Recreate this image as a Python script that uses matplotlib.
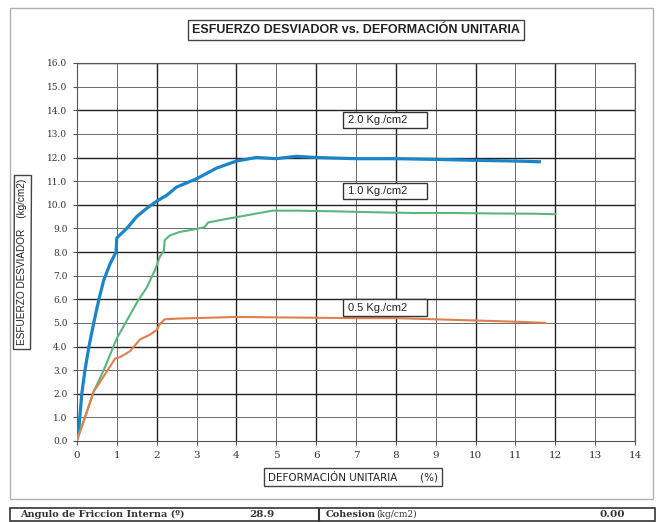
import matplotlib
matplotlib.use("Agg")
import matplotlib.pyplot as plt
from matplotlib.patches import Rectangle

# ---- data ----
x_20 = [0, 0.05, 0.12, 0.2, 0.3, 0.42, 0.55, 0.67, 0.83, 0.98, 1.0, 1.25, 1.5, 1.75, 2.0, 2.25,
        2.5, 3.0, 3.5, 4.0, 4.5, 5.0, 5.5, 6.0, 7.0, 8.0, 9.0, 10.0, 11.0, 11.6]
y_20 = [0.2, 0.6, 2.0, 3.0, 4.0, 5.0, 6.0, 6.8, 7.5, 8.0, 8.6, 9.0, 9.5, 9.85, 10.15, 10.4,
        10.75, 11.1, 11.55, 11.85, 12.0, 11.95, 12.05, 12.0, 11.95, 11.95, 11.92, 11.88, 11.85, 11.82]

x_10 = [0, 0.2, 0.42, 0.67, 1.0, 1.25, 1.5, 1.75, 1.96, 2.08, 2.18, 2.2, 2.33, 2.58, 2.92, 3.2,
        3.29, 3.75, 4.25, 4.9, 5.5, 6.5, 7.5, 8.5, 9.5, 10.5, 11.5, 12.0]
y_10 = [0.1, 1.0, 2.1, 3.0, 4.35, 5.1, 5.85, 6.5, 7.25, 7.8, 8.05, 8.5, 8.7, 8.85, 8.95, 9.05,
        9.25, 9.4, 9.55, 9.75, 9.75, 9.72, 9.68, 9.65, 9.65, 9.63, 9.62, 9.6]

x_05 = [0, 0.2, 0.42, 0.58, 0.75, 0.96, 1.08, 1.33, 1.58, 1.83, 2.0, 2.08, 2.2, 2.5, 4.0, 7.0,
        8.0, 9.0, 10.0, 11.0, 11.75]
y_05 = [0.0, 1.0, 2.1, 2.5, 2.95, 3.5, 3.55, 3.8, 4.3, 4.5, 4.7, 4.95, 5.15, 5.18, 5.25, 5.2,
        5.2, 5.15, 5.1, 5.05, 5.0]

series_labels = ["2.0 Kg./cm2", "1.0 Kg./cm2", "0.5 Kg./cm2"]
label_pos_y = [13.6, 10.6, 5.65]

x_ticks = list(range(0, 15))
y_ticks = [i * 1.0 for i in range(0, 17)]

title = "ESFUERZO DESVIADOR vs. DEFORMACIÓN UNITARIA"
xlabel = "DEFORMACIÓN UNITARIA       (%)"
ylabel = "ESFUERZO DESVIADOR    (kg/cm2)"
friction_angle = "28.9"
cohesion = "0.00"

# ---- figure ----
fig = plt.figure(figsize=(6.64, 5.22), dpi=100)
fig.patch.set_facecolor("white")

# outer frame
fig.patches.append(Rectangle((10 / 664, 1 - 499 / 522), 643 / 664, 491 / 522,
                             transform=fig.transFigure, fill=False,
                             edgecolor="#b0b0b0", linewidth=1.0))

ax = fig.add_axes([77 / 664, 1 - 441 / 522, (635 - 77) / 664, (441 - 63) / 522])
ax.set_xlim(0, 14)
ax.set_ylim(0, 16)
ax.set_xticks(x_ticks)
ax.set_yticks(y_ticks)
ax.set_xticklabels([str(t) for t in x_ticks], fontsize=7.5, family="DejaVu Serif", color="#333333")
ax.set_yticklabels([f"{t:.1f}" for t in y_ticks], fontsize=6.5, family="DejaVu Serif", color="#333333")
ax.tick_params(axis="both", length=3, color="#555555", pad=4)

for t in x_ticks[1:]:
    ax.axvline(t, color="#222222" if t % 2 == 0 else "#6a6a6a",
               linewidth=1.0 if t % 2 == 0 else 0.7, zorder=1)
for t in y_ticks[1:]:
    ax.axhline(t, color="#222222" if int(t) % 2 == 0 else "#6a6a6a",
               linewidth=1.0 if int(t) % 2 == 0 else 0.7, zorder=1)
for s in ax.spines.values():
    s.set_color("#555555")
    s.set_linewidth(0.8)

ax.plot(x_20, y_20, color="#1b84c8", linewidth=2.3, zorder=3)
ax.plot(x_10, y_10, color="#5bb57c", linewidth=1.5, zorder=3)
ax.plot(x_05, y_05, color="#e07f4e", linewidth=1.5, zorder=3)

# series label boxes (fixed width, like the reference)
box_x0, box_w, box_h = 6.68, 2.1, 0.68
for lab, yv in zip(series_labels, label_pos_y):
    ax.add_patch(Rectangle((box_x0, yv - box_h / 2), box_w, box_h, facecolor="white",
                           edgecolor="#333333", linewidth=1.0, zorder=5))
    ax.text(box_x0 + 0.12, yv, lab, fontsize=8, family="Liberation Sans", va="center",
            ha="left", zorder=6, color="#222222")

# title
fig.text(356 / 664, 1 - 30 / 522, title, fontsize=9, fontweight="bold", family="Liberation Sans",
         ha="center", va="center", color="#222222",
         bbox=dict(boxstyle="square,pad=0.35", facecolor="white", edgecolor="#444444",
                   linewidth=1.0))
# x label
fig.text(353 / 664, 1 - 477 / 522, xlabel, fontsize=7.5, family="DejaVu Sans",
         ha="center", va="center", color="#222222",
         bbox=dict(boxstyle="square,pad=0.35", facecolor="white", edgecolor="#444444",
                   linewidth=1.0))
# y label
fig.text(22 / 664, 1 - 262 / 522, ylabel, fontsize=7.2, family="Liberation Sans",
         ha="center", va="center", rotation=90, color="#222222",
         bbox=dict(boxstyle="square,pad=0.35", facecolor="white", edgecolor="#444444",
                   linewidth=1.0))

# bottom table
tb_y0 = 1 - 521 / 522
tb_h = 13 / 522
fig.patches.append(Rectangle((10 / 664, tb_y0), 645 / 664, tb_h, transform=fig.transFigure,
                             fill=False, edgecolor="#333333", linewidth=1.2))
fig.patches.append(Rectangle((318 / 664, tb_y0), 0.001, tb_h, transform=fig.transFigure,
                             fill=True, facecolor="#333333", edgecolor="#333333", linewidth=0.8))
ty = tb_y0 + tb_h / 2
fig.text(20 / 664, ty, "Angulo de Friccion Interna (º)", fontsize=7, fontweight="bold",
         family="DejaVu Serif", va="center", ha="left", color="#333333")
fig.text(262 / 664, ty, friction_angle, fontsize=7.5, fontweight="bold",
         family="DejaVu Serif", va="center", ha="center", color="#333333")
fig.text(326 / 664, ty, "Cohesion", fontsize=7, fontweight="bold",
         family="DejaVu Serif", va="center", ha="left", color="#333333")
fig.text(376 / 664, ty, "(kg/cm2)", fontsize=6.5,
         family="DejaVu Serif", va="center", ha="left", color="#333333")
fig.text(612 / 664, ty, cohesion, fontsize=7.5, fontweight="bold",
         family="DejaVu Serif", va="center", ha="center", color="#333333")

fig.savefig("out.png", dpi=100, facecolor="white")
